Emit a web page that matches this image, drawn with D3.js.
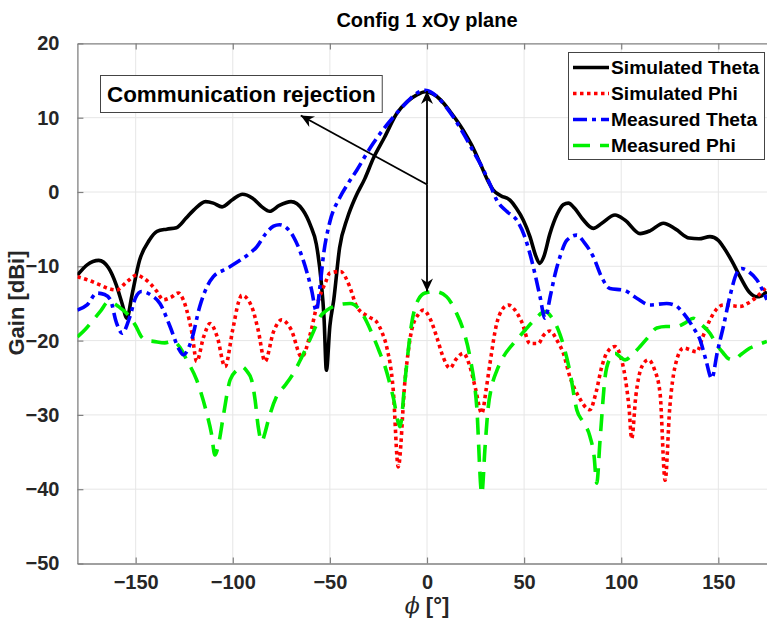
<!DOCTYPE html>
<html>
<head>
<meta charset="utf-8">
<script src="https://cdn.jsdelivr.net/npm/d3@7"></script>
<style>
  body { margin: 0; background: #fff; }
  text { font-family: "Liberation Sans", Arial, Helvetica, sans-serif; font-weight: bold; }
</style>
</head>
<body>
<svg id="chart" width="767" height="633"></svg>
<script>
// Axis ticks
const xTicks = [-150, -100, -50, 0, 50, 100, 150];
const yTicks = [20, 10, 0, -10, -20, -30, -40, -50];

// Simulated Theta (azimuth angle in degrees, gain in dBi)
const simThetaAngle = [-180,-175,-169,-164,-160,-157,-154.5,-152,-148,-143,-139,-134,-129,-124,-120,-114,-110,-105.5,-100,-95,-90,-85,-81,-76,-70,-64,-60,-57,-54.5,-53,-51.8,-50,-48,-45,-41,-37,-32,-27.5,-22,-15.5,-10,-5,-1,3,7,12,18.7,23,27.3,31,34,38,42.7,46,49.6,53,56,58,60,63.3,67,70.2,72.8,76,80,85.6,90,96.8,102,109.7,115,121.7,128,135,140,145.7,150,152.6,157,161.2,166,169.8,172,175];
const simThetaGain  = [-11.2,-9.8,-9.2,-10.2,-12.5,-15,-17,-14,-9.2,-6.5,-5.3,-5.0,-4.8,-3.5,-2.4,-1.3,-1.5,-2.0,-1.0,-0.3,-0.8,-2.0,-2.6,-1.8,-1.3,-2.4,-4.5,-7,-12,-17,-24,-18,-14.5,-7.5,-3.5,-0.8,1.8,4.6,7.3,10.6,12.2,13.1,13.5,13.2,12.4,10.8,8.3,6.3,3.9,1.7,0.3,-0.5,-1.1,-2.2,-3.8,-6,-8.6,-9.6,-8.8,-5.6,-3,-1.7,-1.5,-2.2,-3.6,-4.9,-4.2,-3.1,-3.8,-5.6,-5.2,-4.2,-5.0,-6.2,-6.3,-6.0,-6.5,-7.4,-9.3,-11.4,-13.5,-14.1,-14,-13.4];

// Simulated Phi
const simPhiAngle = [-180,-174,-168.4,-164,-159.8,-155,-149.5,-146,-142.6,-139,-135.8,-132,-128,-125.5,-123.7,-121,-118.6,-115,-111.7,-108,-104,-100,-97,-95.4,-90.3,-87,-83.4,-79,-74.8,-70,-64.5,-60,-56.8,-52,-50,-44.5,-40,-36.2,-30,-25.9,-23,-20.8,-17.4,-14.8,-11.3,-7.9,-4.5,-1.9,1.5,5,8,11.8,15,18.7,22.1,25,28.2,30.5,32.4,35.9,38.5,41.9,45,48.8,53,57.3,60,63.3,67,70.2,73.6,78,83.9,87,90,92.5,96.8,99.5,102,104,105.4,107.5,110.6,114,117,120,122.6,125,127.7,132,138.9,142,145.7,149,152.6,157,161.2,165,169.8,175];
const simPhiGain  = [-11.4,-11.9,-12.5,-13,-13.2,-12.2,-11.2,-11.6,-12.3,-13.4,-14.5,-14.2,-13.6,-14.5,-15.9,-19,-22.8,-19.5,-17.7,-19.5,-23.5,-18.5,-14.8,-13.9,-15.4,-18.5,-22.8,-18.8,-17.2,-18.5,-22.2,-19,-15.4,-12,-10.9,-10.7,-12.6,-15.4,-16.8,-17.5,-19,-20.8,-26.6,-37,-25.3,-18.6,-16.5,-15.9,-17,-19.5,-22,-23.7,-22.5,-21.7,-23.5,-26.5,-29.8,-26.5,-23.1,-17.7,-15.9,-15.2,-15.8,-17.5,-20.4,-20.4,-19.3,-18.7,-20,-21.7,-24.9,-27.5,-29.3,-27,-23.5,-21.7,-20.8,-22,-24.9,-29,-33.2,-27.5,-23.5,-22.6,-23.8,-27.1,-38.8,-29,-23.5,-21.0,-21.5,-19.5,-17.2,-15.8,-15.2,-15.3,-15.4,-15,-14.1,-12.7];

// Measured Theta
const measThetaAngle = [-180,-175,-170,-166,-163,-160,-157,-153,-150,-147,-142,-137.5,-132.3,-128,-125.5,-121.2,-117,-113,-110,-103,-96.3,-91,-87.7,-83,-79,-76,-72,-68.8,-63.7,-59.4,-57,-55,-53.4,-50,-45,-41,-36,-31,-27.6,-22,-15.6,-10,-5.3,-1,3,8.4,13,18.7,24,29,32.5,35.9,41,46.2,50,53,56,58.2,60.8,63.5,66,68.5,72,77.1,81,85.6,90,94.2,101.1,108,114.8,123.4,128,132,137,140.6,143.5,146.6,149.5,152.6,156,159.5,162,166,169.8,175];
const measThetaGain  = [-15.9,-15.2,-13.6,-13.8,-14.5,-17.5,-19,-16.8,-14.2,-13.4,-13.9,-15.0,-18.1,-21,-21.9,-19.9,-15.4,-12.6,-11.4,-10.3,-9.2,-8.2,-7.4,-5.6,-4.6,-4.4,-4.9,-6.0,-9.2,-13.2,-16,-12.5,-8.7,-4.0,-0.8,1.0,3.0,5.2,6.6,8.6,10.6,12.2,13.3,13.7,13.3,11.9,10.3,7.9,5.4,3.0,1.0,-1.1,-2.6,-3.8,-5.8,-8.3,-11.5,-14.1,-17,-14,-11,-8.7,-6.5,-5.8,-6.8,-8.7,-11.5,-13,-13.2,-14.3,-15.2,-15.0,-15.3,-16.3,-18.2,-19.9,-22.5,-25.1,-21.5,-18.1,-14,-10.9,-10.3,-10.8,-11.8,-14.5];

// Measured Phi
const measPhiAngle = [-180,-176,-171.8,-168,-164.1,-161,-159,-156,-153,-150,-147,-144,-140.9,-135,-130.6,-127,-123.7,-118.6,-113.4,-111,-109.2,-107,-104.9,-101.4,-98,-95.4,-92.5,-90.3,-88.5,-86.9,-85.1,-83.5,-81.7,-77.4,-73,-68.8,-65,-61.9,-58,-55.1,-51.5,-48.2,-44,-39.6,-34.5,-31,-27.6,-24.5,-21.6,-17.4,-13.9,-11.3,-7.9,-4.5,-1,4,10.1,15,18.7,22.1,25.6,28.2,29.9,31.5,33.3,36,39.3,44.4,50.5,55,60.8,64,68.5,73.6,77.1,80.5,83.9,86,87.4,89.1,91.7,94,96.8,99.5,102,106,109.7,114,118.3,123,128.6,133,137.1,141,145.7,149,152.6,155,157.7,162,166.3,170,175];
const measPhiGain  = [-19.5,-18.5,-17.2,-16,-14.8,-15,-15.4,-16,-16.8,-18,-19.5,-20,-20.1,-20.3,-20.1,-21,-22.6,-25.3,-29.8,-32.5,-35.4,-33.5,-30.2,-25.3,-24,-23.5,-24.2,-25.3,-28,-31.6,-33.6,-32.5,-30.7,-27.5,-26,-24.4,-22.5,-20.8,-18.5,-16.8,-15.9,-15.4,-15.1,-15.0,-15.9,-17.5,-19.5,-21.5,-23.5,-27.6,-31.6,-25.3,-17.7,-14.5,-13.6,-13.4,-14.1,-16.2,-18.6,-22.2,-28.9,-40.6,-34.3,-29,-26.2,-24,-22.2,-20.4,-18.6,-17.3,-16.1,-16.8,-19.2,-24.2,-29.3,-31,-32.9,-35.5,-39.2,-33.4,-24.9,-22.5,-21.7,-22.2,-22.6,-21.8,-20.8,-19.5,-18.3,-18.1,-18.1,-17.6,-17.0,-17.8,-19.0,-20.5,-21.7,-22.4,-22.6,-21.8,-21.0,-20.6,-20.1];

// Legend labels and annotation
const seriesNames = ["Simulated Theta", "Simulated Phi", "Measured Theta", "Measured Phi"];
const noteText = "Communication rejection";
const noteTail = [0, 1];                       // common start of the three arrows
const noteTips = [[0, 13.6], [0, -13.4], [-65, 10.3]];

const svg = d3.select("#chart");
const W = 767, H = 633;
const plot = { left: 77.4, right: 776.6, top: 43.4, bottom: 563.5 };

const x = d3.scaleLinear().domain([-180, 180]).range([plot.left, plot.right]);
const y = d3.scaleLinear().domain([-50, 20]).range([plot.bottom, plot.top]);

svg.append("rect").attr("width", W).attr("height", H).attr("fill", "#fff");

// grid
const grid = svg.append("g");
grid.selectAll("line.gx").data(xTicks).join("line")
  .attr("x1", d => x(d)).attr("x2", d => x(d))
  .attr("y1", plot.top).attr("y2", plot.bottom)
  .attr("stroke", "#e6e6e6").attr("stroke-width", 1);
grid.selectAll("line.gy").data(yTicks.slice(1, -1)).join("line")
  .attr("x1", plot.left).attr("x2", plot.right)
  .attr("y1", d => y(d)).attr("y2", d => y(d))
  .attr("stroke", "#e6e6e6").attr("stroke-width", 1);

// axes (ticks drawn inward)
const axisColor = "#808080";
const gx = svg.append("g").attr("transform", `translate(0,${plot.bottom})`)
  .call(d3.axisBottom(x).tickValues(xTicks).tickSizeInner(-6).tickSizeOuter(0).tickPadding(11));
const gxTop = svg.append("g").attr("transform", `translate(0,${plot.top})`)
  .call(d3.axisTop(x).tickValues(xTicks).tickSizeInner(-6).tickSizeOuter(0).tickFormat(""));
const gy = svg.append("g").attr("transform", `translate(${plot.left},0)`)
  .call(d3.axisLeft(y).tickValues(yTicks).tickSizeInner(-6).tickSizeOuter(0).tickPadding(18));
[gx, gxTop, gy].forEach(g => {
  g.select(".domain").attr("stroke", axisColor).attr("stroke-width", 1.3);
  g.selectAll(".tick line").attr("stroke", axisColor).attr("stroke-width", 1.2);
  g.selectAll(".tick text").attr("fill", "#262626").attr("font-size", 20)
    .attr("font-family", "'Liberation Sans', Arial, sans-serif").attr("font-weight", "bold");
});
gx.selectAll(".tick text").attr("dy", "0.71em");

// curves
const clip = svg.append("clipPath").attr("id", "plotclip").append("rect")
  .attr("x", plot.left).attr("y", plot.top)
  .attr("width", plot.right - plot.left).attr("height", plot.bottom - plot.top);

const series = [
  { name: seriesNames[0], a: simThetaAngle, g: simThetaGain, color: "#000000", dash: null },
  { name: seriesNames[1], a: simPhiAngle, g: simPhiGain, color: "#ff0000", dash: "3.5 3.5" },
  { name: seriesNames[2], a: measThetaAngle, g: measThetaGain, color: "#0000ff", dash: "14 5 4 5" },
  { name: seriesNames[3], a: measPhiAngle, g: measPhiGain, color: "#00f000", dash: "17 10" }
];
const line = d3.line().x(d => x(d[0])).y(d => y(d[1])).curve(d3.curveMonotoneX);
const curves = svg.append("g").attr("clip-path", "url(#plotclip)");
// draw back-to-front so the solid black trace sits under the measured ones where they overlap
[series[0], series[1], series[3], series[2]].forEach(s => {
  curves.append("path")
    .datum(s.a.map((v, i) => [v, s.g[i]]))
    .attr("d", line)
    .attr("fill", "none")
    .attr("stroke", s.color)
    .attr("stroke-width", 3.6)
    .attr("stroke-dasharray", s.dash)
    .attr("stroke-linejoin", "round");
});

// annotation arrows
function arrowHead(g, x0, y0, x1, y1) {
  const ang = Math.atan2(y1 - y0, x1 - x0);
  const L = 13, Wd = 6, N = 9;
  const c = Math.cos(ang), s = Math.sin(ang);
  const pts = [
    [x1, y1],
    [x1 - L * c + Wd * s, y1 - L * s - Wd * c],
    [x1 - N * c, y1 - N * s],
    [x1 - L * c - Wd * s, y1 - L * s + Wd * c]
  ];
  g.append("path").attr("d", "M" + pts.map(p => p.join(",")).join("L") + "Z").attr("fill", "#000");
}
const notes = svg.append("g");
noteTips.forEach(t => {
  const x0 = x(noteTail[0]), y0 = y(noteTail[1]), x1 = x(t[0]), y1 = y(t[1]);
  notes.append("line").attr("x1", x0).attr("y1", y0).attr("x2", x1).attr("y2", y1)
    .attr("stroke", "#000").attr("stroke-width", 1.8);
  arrowHead(notes, x0, y0, x1, y1);
});

// annotation text box
const noteG = svg.append("g");
const noteLabel = noteG.append("text").attr("x", 107).attr("y", 101.5)
  .attr("font-size", 22.4).attr("fill", "#000").text(noteText);
const nb = noteLabel.node().getBBox();
noteG.insert("rect", "text").attr("x", 100.5).attr("y", 75.5)
  .attr("width", nb.width + 13).attr("height", 37)
  .attr("fill", "#fff").attr("stroke", "#444").attr("stroke-width", 1);

// legend
const lg = svg.append("g");
lg.append("rect").attr("x", 568.5).attr("y", 52.5).attr("width", 196).attr("height", 107)
  .attr("fill", "#fff").attr("stroke", "#444").attr("stroke-width", 1);
series.forEach((s, i) => {
  const yy = 67.5 + i * 26;
  lg.append("line").attr("x1", 573).attr("x2", 609).attr("y1", yy).attr("y2", yy)
    .attr("stroke", s.color).attr("stroke-width", 3.6).attr("stroke-dasharray", s.dash);
  lg.append("text").attr("x", 611).attr("y", yy).attr("dy", "0.36em")
    .attr("font-size", 19.2).attr("fill", "#000").text(s.name);
});

// title and axis labels
svg.append("text").attr("x", 427).attr("y", 27).attr("text-anchor", "middle")
  .attr("font-size", 20).attr("fill", "#000").text("Config 1 xOy plane");
svg.append("text").attr("transform", "translate(24,303) rotate(-90)").attr("text-anchor", "middle")
  .attr("font-size", 22).attr("fill", "#262626").text("Gain [dBi]");
const xl = svg.append("text").attr("x", 427).attr("y", 613).attr("text-anchor", "middle")
  .attr("font-size", 22).attr("fill", "#262626");
xl.append("tspan").attr("font-family", "'DejaVu Serif', 'Liberation Serif', serif")
  .attr("font-style", "italic").attr("font-weight", "normal").text("ϕ");
xl.append("tspan").text(" [°]");
</script>
</body>
</html>
